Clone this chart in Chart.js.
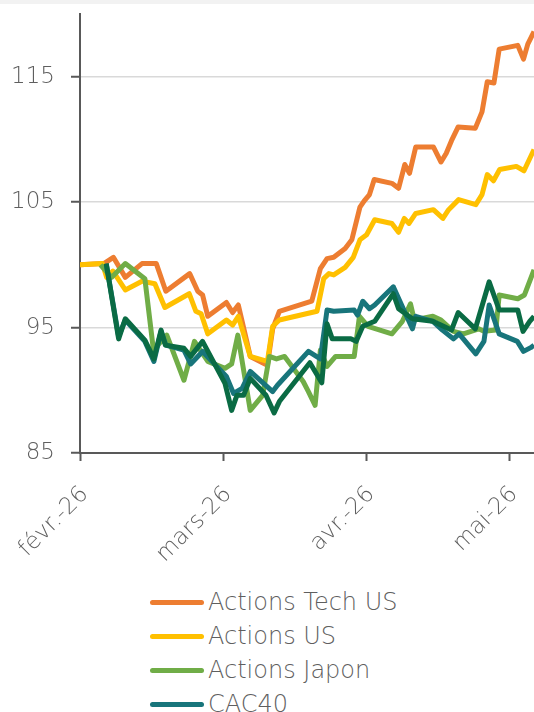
<!DOCTYPE html>
<html lang="fr">
<head>
<meta charset="utf-8">
<title>Performance des marchés</title>
<script src="https://cdn.jsdelivr.net/npm/chart.js@4.4.1/dist/chart.umd.min.js"></script>
<style>
  html, body { margin: 0; padding: 0; background: #fff; overflow: hidden; }
  body { width: 534px; height: 712px; position: relative; font-family: "DejaVu Sans", sans-serif; }
  #topbar { height: 4px; background: #f2f2f2; }
  #wrap { position: absolute; top: 4px; left: 0; width: 534px; height: 570px; }
  #legend { position: absolute; top: 585px; left: 150px; }
  #legend ul { list-style: none; margin: 0; padding: 0; }
  #legend li { height: 34px; display: flex; align-items: center; white-space: nowrap; }
  #legend .swatch { display: inline-block; width: 54px; height: 5px; border-radius: 3px; }
  #legend .text { margin-left: 4px; font-size: 24px; font-weight: 300; color: #5f5f5f; }
</style>
</head>
<body>
<div id="topbar"></div>
<div id="wrap"><canvas id="perf-chart" width="534" height="570"></canvas></div>
<div id="legend"></div>
<script>
// axis labels
const monthLabels = ['févr.-26', 'mars-26', 'avr.-26', 'mai-26'];
const monthStartDays = [0, 30, 60, 90];
const yTickValues = [85, 95, 105, 115];

// series (day index since 1 Feb, base 100)
const techDays = [0, 5, 7, 9.5, 13, 16, 18, 23, 24.7, 25.7, 26.8, 30.7, 32, 33.2, 35.7, 39.3, 40.4, 41.8, 48.6, 50.4, 51.8, 53.2, 55.6, 57, 58.7, 59.6, 60.7, 61.7, 65.4, 66.8, 68.1, 69.1, 70.4, 74.1, 75.7, 76.8, 77.9, 79.3, 82.9, 84.3, 85.4, 86.8, 87.9, 91.8, 93, 93.9, 95.2];
const techValues = [100.0, 100.1, 100.6, 99.0, 100.1, 100.1, 97.9, 99.3, 97.9, 97.6, 95.9, 97.0, 96.2, 96.8, 92.7, 92.0, 94.9, 96.3, 97.1, 99.7, 100.5, 100.6, 101.3, 102.0, 104.6, 105.1, 105.6, 106.8, 106.5, 106.1, 108.0, 107.3, 109.4, 109.4, 108.2, 108.9, 109.9, 111.0, 110.9, 112.2, 114.6, 114.5, 117.2, 117.5, 116.4, 117.6, 118.6];

const usDays = [0, 4.7, 5.6, 6.9, 9.5, 13, 15.7, 17.8, 22.9, 24.3, 25.4, 26.8, 30.7, 32, 33.2, 35.7, 39.3, 40.4, 41.8, 49.7, 51.1, 52.2, 53.2, 55.6, 57.3, 58.7, 60.1, 61.8, 65.4, 66.8, 68, 69, 70.4, 74.1, 76.1, 77.3, 79.4, 83, 84.3, 85.4, 86.7, 88, 91.5, 93.1, 95.2];
const usValues = [100.0, 100.1, 99.0, 99.5, 98.0, 98.7, 98.5, 96.6, 97.7, 96.3, 96.1, 94.5, 95.6, 95.2, 95.9, 92.7, 92.3, 95.1, 95.6, 96.3, 98.9, 99.3, 99.2, 99.8, 100.6, 102.0, 102.4, 103.6, 103.3, 102.6, 103.7, 103.3, 104.1, 104.4, 103.7, 104.4, 105.2, 104.8, 105.6, 107.2, 106.7, 107.6, 107.85, 107.5, 109.2];

const japanDays = [4.3, 6.6, 9.5, 13.6, 15.4, 18.2, 21.8, 24, 25.4, 26.8, 30.4, 31.8, 33.1, 35.7, 38.3, 39.7, 41.2, 42.9, 46.8, 47.9, 49.3, 50.4, 51.8, 53.6, 57.5, 58.6, 60.4, 65.4, 67.6, 69.3, 70.1, 74, 75.7, 78.3, 80.4, 83.6, 84.7, 87.2, 87.9, 91.8, 93.2, 95.2];
const japanValues = [100.0, 99.0, 100.1, 98.9, 93.2, 94.4, 90.8, 93.9, 93.1, 92.3, 91.75, 92.1, 94.4, 88.4, 89.6, 92.7, 92.5, 92.7, 90.7, 89.9, 88.8, 93.2, 91.9, 92.7, 92.7, 95.9, 95.1, 94.5, 95.5, 96.9, 95.6, 95.9, 95.6, 94.7, 94.5, 94.9, 94.7, 94.8, 97.6, 97.3, 97.6, 99.6];

const cacDays = [5.5, 8.1, 9.5, 13.6, 15.5, 17, 18, 21.8, 23.2, 25.7, 30.7, 32.2, 34, 35.7, 40.4, 41.4, 47.9, 50.4, 51.8, 53.2, 57.5, 58.2, 59.3, 60.7, 61.8, 65.7, 67.6, 69.7, 70.4, 74, 76, 78.3, 79.5, 83, 84.7, 85.8, 87.9, 91.7, 93, 94.5, 95.2];
const cacValues = [100.1, 94.3, 95.6, 93.9, 92.3, 94.7, 93.6, 93.2, 92.1, 93.1, 91.1, 89.75, 90.15, 91.5, 89.9, 90.4, 93.1, 92.5, 96.4, 96.3, 96.4, 96.0, 97.1, 96.5, 96.8, 98.25, 96.65, 94.9, 95.9, 95.5, 94.8, 94.1, 94.5, 92.9, 93.9, 96.8, 94.5, 93.9, 93.1, 93.4, 93.6];

const europeDays = [5.5, 8.1, 9.5, 13.6, 15.5, 17, 17.9, 21.8, 23.2, 25.7, 30.4, 31.8, 32.9, 34.3, 35.7, 39, 40.7, 41.8, 48.2, 50.7, 51.8, 52.9, 56.8, 57.9, 59.3, 61.8, 65.7, 66.8, 69.7, 74, 77.9, 79.3, 82.9, 85.8, 87.9, 91.8, 92.9, 94.3, 95.2];
const europeValues = [100.1, 94.1, 95.7, 94.0, 92.5, 94.8, 93.6, 93.35, 92.7, 93.9, 90.55, 88.4, 89.6, 89.6, 90.95, 89.6, 88.2, 89.1, 92.2, 90.6, 95.3, 94.1, 94.1, 93.9, 95.1, 95.5, 97.7, 96.5, 95.7, 95.5, 94.8, 96.2, 94.9, 98.65, 96.4, 96.4, 94.7, 95.5, 95.9];

const seriesNames = ['Actions Tech US', 'Actions US', 'Actions Japon', 'CAC40', 'Actions Europe'];
const seriesColors = ['#ED7D31', '#FFC000', '#70AD47', '#18757B', '#0A6B44'];
const seriesDays = [techDays, usDays, japanDays, cacDays, europeDays];
const seriesValues = [techValues, usValues, japanValues, cacValues, europeValues];

const TEXT_GREY = '#5f5f5f';
const AXIS_GREY = '#595959';
const TICK_FONT = { family: 'DejaVu Sans', size: 23, weight: 300 };

function toPoints(days, values) {
  return days.map((d, i) => ({ x: d, y: values[i] }));
}

// ── HTML LEGEND (one entry per row) ──────────────

function buildLegend(chart) {
  const box = document.getElementById('legend');
  const ul = document.createElement('ul');
  chart.data.datasets.forEach(ds => {
    const li = document.createElement('li');
    const sw = document.createElement('span');
    sw.className = 'swatch';
    sw.style.background = ds.borderColor;
    const tx = document.createElement('span');
    tx.className = 'text';
    tx.textContent = ds.label;
    li.appendChild(sw);
    li.appendChild(tx);
    ul.appendChild(li);
  });
  box.innerHTML = '';
  box.appendChild(ul);
}

// ── CHART ────────────────────────────────────────

const ctx = document.getElementById('perf-chart').getContext('2d');
const chart = new Chart(ctx, {
  type: 'line',
  data: {
    datasets: seriesNames.map((name, i) => ({
      label: name,
      data: toPoints(seriesDays[i], seriesValues[i]),
      borderColor: seriesColors[i],
      backgroundColor: seriesColors[i],
      borderWidth: 5,
      borderJoinStyle: 'round',
      pointRadius: 0,
      tension: 0,
      order: seriesNames.length - i   // later series drawn on top
    }))
  },
  options: {
    responsive: false,
    animation: false,
    devicePixelRatio: 1,
    layout: { padding: { top: 10, right: 0, bottom: 0, left: 0 } },
    plugins: {
      legend: { display: false },
      tooltip: { enabled: false }
    },
    scales: {
      x: {
        type: 'linear',
        min: 0,
        max: 95.2,
        afterBuildTicks: s => { s.ticks = monthStartDays.map(v => ({ value: v })); },
        afterFit: s => { s.height = 121; s.paddingLeft = 0; s.paddingRight = 0; },
        ticks: {
          color: TEXT_GREY,
          font: TICK_FONT,
          minRotation: 45,
          maxRotation: 45,
          padding: 20,
          labelOffset: 5,
          callback: v => monthLabels[monthStartDays.indexOf(v)]
        },
        grid: { drawOnChartArea: false, tickLength: 8, tickColor: AXIS_GREY, tickWidth: 2 },
        border: { color: AXIS_GREY, width: 2 }
      },
      y: {
        min: 85,
        max: 120,
        afterBuildTicks: s => { s.ticks = yTickValues.map(v => ({ value: v })); },
        afterFit: s => { s.width = 80; s.paddingTop = 0; s.paddingBottom = 0; },
        ticks: { color: TEXT_GREY, font: TICK_FONT, padding: 16 },
        grid: {
          color: c => (c.tick && c.tick.value === 85 ? 'rgba(0,0,0,0)' : '#D9D9D9'),
          lineWidth: 1.5,
          tickLength: 9,
          tickColor: AXIS_GREY,
          tickWidth: 2
        },
        border: { color: AXIS_GREY, width: 2 }
      }
    }
  }
});

buildLegend(chart);
</script>
</body>
</html>
